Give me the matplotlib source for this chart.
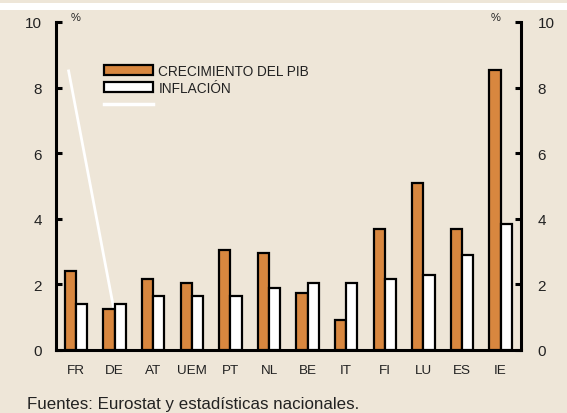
import matplotlib
matplotlib.use("Agg")
import matplotlib.pyplot as plt
import numpy as np
from matplotlib.patches import Rectangle, Patch
from matplotlib.lines import Line2D

countries = ["FR", "DE", "AT", "UEM", "PT", "NL", "BE", "IT", "FI", "LU", "ES", "IE"]
pib = [2.4, 1.25, 2.15, 2.05, 3.05, 2.95, 1.73, 0.92, 3.7, 5.1, 3.7, 8.55]
inflacion = [1.4, 1.4, 1.65, 1.65, 1.65, 1.9, 2.05, 2.05, 2.15, 2.3, 2.9, 3.85]
# white line series (as drawn in the original)
linea_x = [-0.2, 1.18]
linea_y = [8.55, 0.0]
yticks = [0, 2, 4, 6, 8, 10]

BG = "#EEE6D8"
ORANGE = "#D8873F"
TXT = "#222222"

plt.rcParams['font.family'] = ['Liberation Sans', 'DejaVu Sans']

fig = plt.figure(figsize=(5.67, 4.14), dpi=100)
fig.patch.set_facecolor(BG)
fig.patches.append(Rectangle((0, (414 - 11) / 414), 1, 7 / 414, transform=fig.transFigure,
                             facecolor="white", edgecolor="none", zorder=0))

ax = fig.add_axes([56 / 567, 1 - 351 / 414, (521 - 56) / 567, (351 - 23) / 414])
ax.set_facecolor(BG)

x = np.arange(len(countries))
w = 0.29
ax.plot(linea_x, linea_y, color="white", lw=2, zorder=2, solid_capstyle="butt")
ax.bar(x - w / 2, pib, width=w, color=ORANGE, edgecolor="black", linewidth=1.6, zorder=3)
ax.bar(x + w / 2, inflacion, width=w, color="white", edgecolor="black", linewidth=1.6, zorder=3)

ax.set_xlim(-0.52, len(countries) - 1 + 0.53)
ax.set_ylim(0, 10)
ax.set_yticks(yticks)
ax.set_xticks(x)
ax.set_xticklabels(countries)

ax.spines["top"].set_visible(False)
ax.spines["right"].set_visible(False)
for s in ["left", "bottom"]:
    ax.spines[s].set_linewidth(2.2)
    ax.spines[s].set_color("black")

ax.tick_params(axis="y", direction="in", length=4, width=2.2, color="black",
               labelsize=11, labelcolor=TXT, pad=10)
ax.tick_params(axis="x", length=0, labelsize=9.7, pad=10, labelcolor=TXT)

ax2 = ax.twinx()
ax2.set_ylim(ax.get_ylim())
ax2.set_yticks(yticks)
ax2.spines["top"].set_visible(False)
ax2.spines["left"].set_visible(False)
ax2.spines["bottom"].set_visible(False)
ax2.spines["right"].set_linewidth(2.2)
ax2.tick_params(axis="y", direction="in", length=4, width=2.2, color="black",
                labelsize=11, labelcolor=TXT, pad=12)

ax.text(0.043, 1.0, "%", transform=ax.transAxes, fontsize=8, color=TXT, ha="center", va="bottom")
ax.text(0.946, 1.0, "%", transform=ax.transAxes, fontsize=8, color=TXT, ha="center", va="bottom")

handles = [Patch(facecolor=ORANGE, edgecolor="black", linewidth=1.6),
           Patch(facecolor="white", edgecolor="black", linewidth=1.6),
           Line2D([0], [0], color="white", lw=2.5)]
labels = ["CRECIMIENTO DEL PIB", "INFLACIÓN", ""]
leg = ax.legend(handles, labels, loc="upper left", bbox_to_anchor=(0.103, 0.873),
                frameon=False, fontsize=9.8, handlelength=3.6, handleheight=0.72,
                handletextpad=0.4, labelspacing=0.22, borderpad=0, borderaxespad=0)
for t in leg.get_texts():
    t.set_color(TXT)

fig.text(27 / 567, 1 - 409.5 / 414, "Fuentes: Eurostat y estadísticas nacionales.",
         fontsize=12.2, color=TXT, ha="left", va="baseline")

fig.savefig("out.png", dpi=100, facecolor=BG)
